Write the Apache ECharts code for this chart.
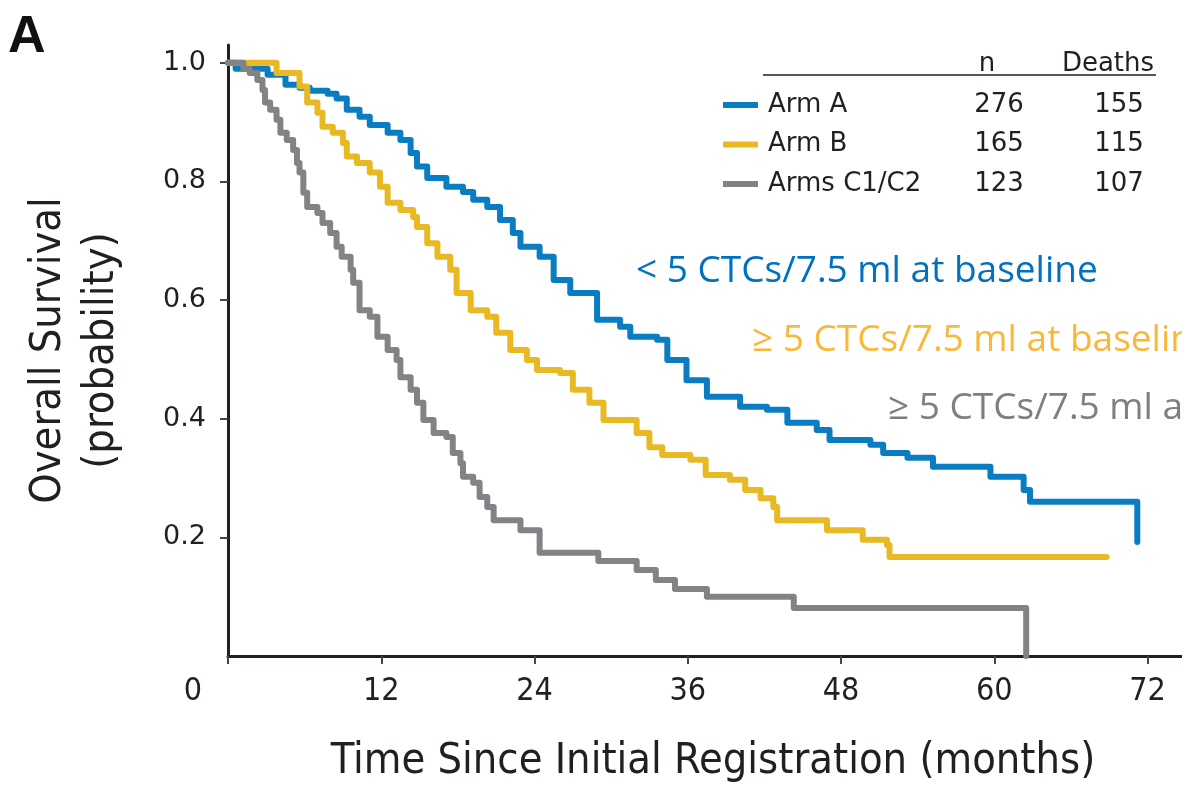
<!DOCTYPE html>
<html>
<head>
<meta charset="utf-8">
<script src="https://cdn.jsdelivr.net/npm/echarts@6/dist/echarts.min.js"></script>
<style>
  html, body { margin: 0; padding: 0; background: #fff; }
  #main { width: 1182px; height: 789px; }
</style>
</head>
<body>
<div id="main"></div>
<script>
// data (months, survival probability)
var armNames = ['Arm A', 'Arm B', 'Arms C1/C2'];
var armN = [276, 165, 123];
var armDeaths = [155, 115, 107];

var armATime = [0, 0.6, 3.1, 4.5, 5.6, 6.4, 7.8, 8.5, 9.3, 10.3, 11.1, 12.5, 13.5, 14.3, 14.8, 15.6, 17.1, 18.4, 19.2, 20.3, 21.3, 22.3, 22.9, 24.4, 25.5, 26.8, 28.9, 30.7, 31.5, 33.6, 34.4, 35.9, 37.5, 40.1, 42.2, 43.8, 46.1, 47.1, 50.3, 51.3, 53.2, 55.2, 59.7, 62.3, 62.8, 71.2];
var armASurv = [1.0, 0.99, 0.98, 0.963, 0.958, 0.953, 0.948, 0.94, 0.921, 0.909, 0.895, 0.882, 0.87, 0.848, 0.825, 0.806, 0.791, 0.782, 0.769, 0.757, 0.735, 0.713, 0.69, 0.673, 0.634, 0.612, 0.567, 0.555, 0.538, 0.533, 0.499, 0.465, 0.437, 0.42, 0.415, 0.393, 0.381, 0.364, 0.356, 0.342, 0.334, 0.319, 0.302, 0.28, 0.26, 0.192];

var armBTime = [0, 3.8, 5.6, 6.2, 7.0, 7.4, 8.2, 9.0, 9.3, 10.1, 11.1, 11.9, 12.5, 13.5, 14.5, 14.8, 15.6, 16.4, 17.4, 17.9, 19.0, 20.3, 21.0, 22.1, 23.4, 24.2, 26.0, 27.0, 28.3, 29.4, 32.0, 33.0, 34.0, 36.2, 37.4, 39.3, 40.5, 41.7, 42.7, 43.0, 46.9, 49.7, 51.6, 51.8, 68.8];
var armBSurv = [1.0, 0.983, 0.96, 0.933, 0.916, 0.892, 0.882, 0.865, 0.842, 0.831, 0.815, 0.791, 0.764, 0.752, 0.74, 0.723, 0.696, 0.673, 0.651, 0.612, 0.583, 0.572, 0.545, 0.516, 0.499, 0.482, 0.477, 0.449, 0.427, 0.398, 0.376, 0.352, 0.339, 0.331, 0.305, 0.297, 0.28, 0.266, 0.251, 0.229, 0.212, 0.196, 0.187, 0.167, 0.167];

var armCTime = [0, 1.2, 1.7, 2.3, 2.7, 2.9, 3.3, 3.8, 4.1, 4.6, 5.1, 5.4, 5.6, 5.9, 6.2, 7.0, 7.4, 8.0, 8.5, 8.9, 9.6, 9.8, 10.3, 11.1, 11.7, 12.5, 13.2, 13.5, 14.3, 14.8, 15.3, 16.1, 17.1, 17.6, 18.2, 18.4, 19.2, 19.7, 20.3, 20.8, 22.9, 24.4, 29.0, 32.0, 33.5, 35.0, 37.5, 44.3, 62.5];
var armCSurv = [1.0, 0.99, 0.983, 0.971, 0.954, 0.933, 0.921, 0.904, 0.882, 0.87, 0.853, 0.831, 0.815, 0.781, 0.757, 0.747, 0.73, 0.713, 0.69, 0.673, 0.651, 0.629, 0.583, 0.572, 0.538, 0.516, 0.499, 0.47, 0.449, 0.427, 0.398, 0.376, 0.369, 0.342, 0.325, 0.302, 0.292, 0.268, 0.251, 0.229, 0.212, 0.174, 0.16, 0.145, 0.128, 0.113, 0.1, 0.081, 0.0];

var xTicks = [0, 12, 24, 36, 48, 60, 72];
var yTicks = [0.2, 0.4, 0.6, 0.8, 1.0];

var colors = ['#0a7dc2', '#e8b923', '#818386'];
var narrow = "'Liberation Sans Narrow', 'DejaVu Sans Condensed', sans-serif";

function pairs(t, s) {
  return t.map(function (v, i) { return [v, s[i]]; });
}

var chart = echarts.init(document.getElementById('main'));

var option = {
  animation: false,
  color: colors,
  grid: { left: 228, top: 45, right: 0, bottom: 133, outerBoundsMode: 'none', containLabel: false },
  xAxis: {
    type: 'value',
    min: 0,
    max: 74.7,
    name: 'Time Since Initial Registration (months)',
    nameLocation: 'middle',
    nameGap: 84,
    nameTextStyle: { fontFamily: narrow, fontSize: 43, color: '#231f20', padding: [0, 0, 0, 16] },
    axisLine: { lineStyle: { color: '#231f20', width: 3 } },
    axisTick: { customValues: xTicks, length: 8, lineStyle: { color: '#444', width: 2 } },
    axisLabel: {
      customValues: xTicks,
      margin: 20,
      fontFamily: narrow,
      fontSize: 32,
      color: '#231f20',
      formatter: function (v) { return v === 0 ? '{o|0}' : String(v); },
      rich: { o: { fontFamily: narrow, fontSize: 32, color: '#231f20', padding: [0, 70, 0, 0] } }
    },
    splitLine: { show: false }
  },
  yAxis: {
    type: 'value',
    min: 0,
    max: 1.03,
    name: 'Overall Survival\n(probability)',
    nameLocation: 'middle',
    nameRotate: 90,
    nameGap: 100,
    nameTextStyle: { fontFamily: narrow, fontSize: 43, lineHeight: 53, color: '#231f20' },
    axisLine: { show: true, lineStyle: { color: '#231f20', width: 3 } },
    axisTick: { show: true, customValues: yTicks, length: 8, lineStyle: { color: '#444', width: 2 } },
    axisLabel: {
      customValues: yTicks,
      margin: 22,
      fontFamily: 'DejaVu Sans, sans-serif',
      fontSize: 27,
      color: '#231f20',
      formatter: function (v) { return v.toFixed(1); }
    },
    splitLine: { show: false }
  },
  legend: {
    orient: 'vertical',
    left: 718,
    top: 87,
    itemWidth: 35,
    itemHeight: 6,
    itemGap: 13.5,
    icon: 'rect',
    data: armNames,
    formatter: function (name) {
      var i = armNames.indexOf(name);
      return '{a|' + name + '}{b|' + armN[i] + '}{c|' + armDeaths[i] + '}';
    },
    textStyle: {
      rich: {
        a: { fontFamily: 'DejaVu Sans', fontSize: 26, color: '#231f20', width: 195, padding: [0, 0, 0, 5], lineHeight: 30 },
        b: { fontFamily: 'DejaVu Sans', fontSize: 26, color: '#231f20', width: 72, align: 'center', lineHeight: 30 },
        c: { fontFamily: 'DejaVu Sans', fontSize: 26, color: '#231f20', width: 168, align: 'center', lineHeight: 30 }
      }
    }
  },
  graphic: [
    { type: 'text', left: 8, top: 12, style: { text: 'A', font: 'bold 52px Liberation Sans', fill: '#111' } },
    { type: 'text', x: 987, y: 64, style: { text: 'n', font: '26px DejaVu Sans', fill: '#231f20', align: 'center', verticalAlign: 'middle' } },
    { type: 'text', x: 1108, y: 64, style: { text: 'Deaths', font: '26px DejaVu Sans', fill: '#231f20', align: 'center', verticalAlign: 'middle' } },
    { type: 'line', shape: { x1: 763, y1: 75, x2: 1156, y2: 75 }, style: { stroke: '#555', lineWidth: 2 } },
    { type: 'text', x: 636, y: 271, style: { text: '< 5 CTCs/7.5 ml at baseline', font: '37px Open Sans', fill: '#0070c0', verticalAlign: 'middle' } },
    { type: 'text', x: 752, y: 340, style: { text: '\u2265 5 CTCs/7.5 ml at baseline', font: '37px Open Sans', fill: '#fbb838', verticalAlign: 'middle' } },
    { type: 'text', x: 888, y: 408, style: { text: '\u2265 5 CTCs/7.5 ml at baseline', font: '37px Open Sans', fill: '#7f7f7f', verticalAlign: 'middle' } }
  ],
  series: [
    { name: armNames[0], type: 'line', step: 'end', showSymbol: false, data: pairs(armATime, armASurv), lineStyle: { width: 6, join: 'round', cap: 'round' } },
    { name: armNames[1], type: 'line', step: 'end', showSymbol: false, data: pairs(armBTime, armBSurv), lineStyle: { width: 6, join: 'round', cap: 'round' } },
    { name: armNames[2], type: 'line', step: 'end', showSymbol: false, data: pairs(armCTime, armCSurv), lineStyle: { width: 6, join: 'round', cap: 'round' } }
  ]
};

chart.setOption(option);
</script>
</body>
</html>
